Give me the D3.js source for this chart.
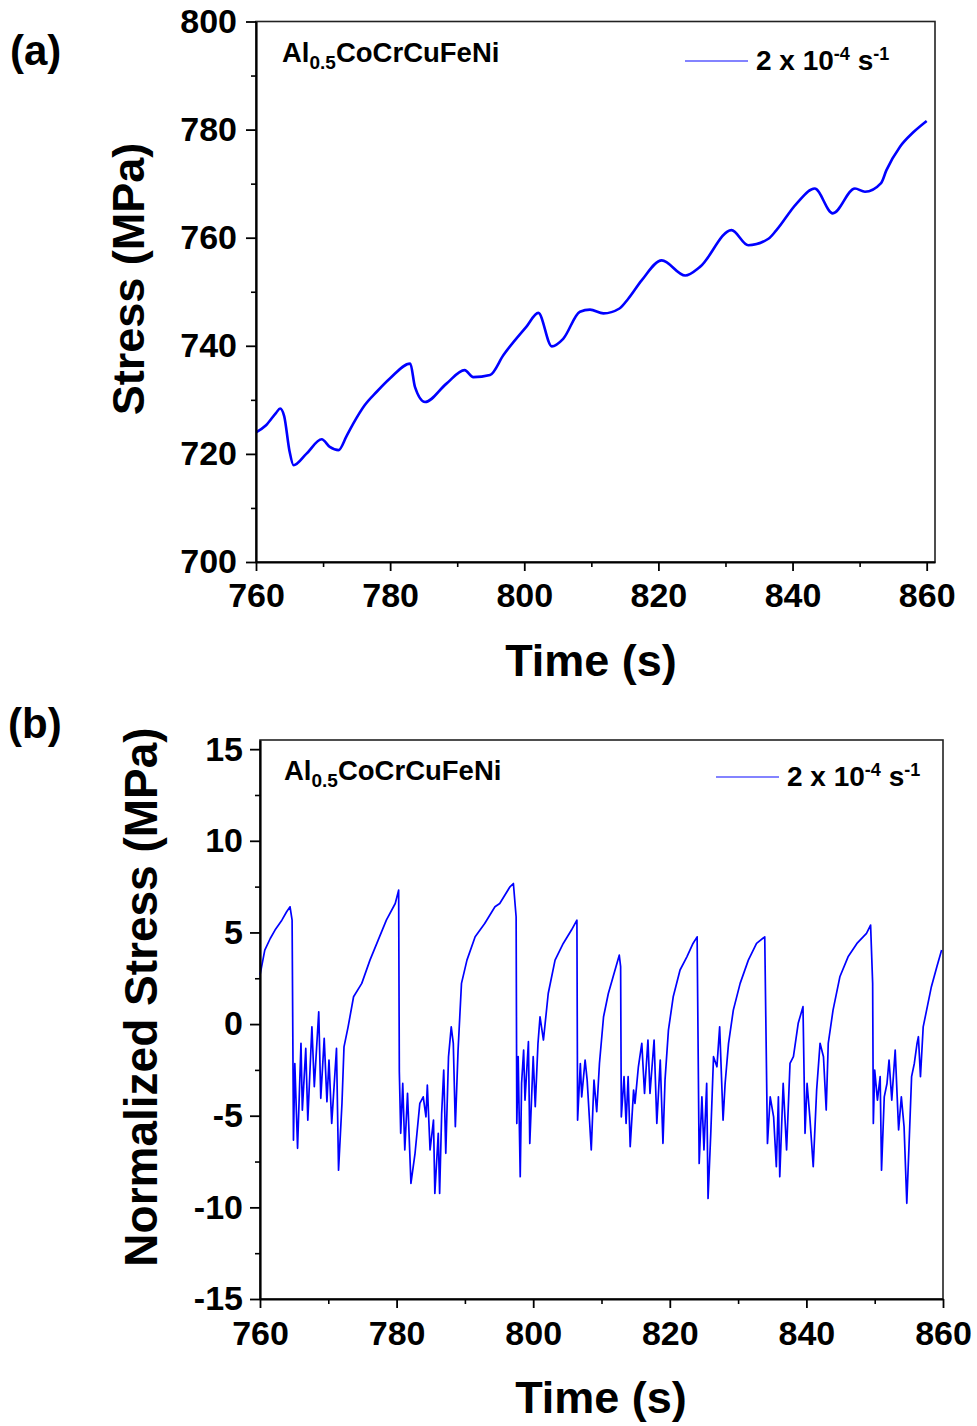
<!DOCTYPE html>
<html>
<head>
<meta charset="utf-8">
<script src="https://cdn.jsdelivr.net/npm/d3@7"></script>
<style>
  body { margin: 0; background: #fff; }
  text { font-family: "Liberation Sans", Arial, sans-serif; font-weight: bold; fill: #000; }
</style>
</head>
<body>
<script>
// panel (a): stress vs time
var timeA = [760, 761.5, 763, 763.6, 764.2, 765.0, 765.6, 767.5, 769.8, 771, 772.3, 773.5, 774.5, 776.2,
  778, 780, 783, 783.7, 785.2, 788.4, 791.1, 792.4, 794.9, 796.9, 800.3, 802.1, 804.1, 805.8,
  808.3, 809.8, 811.8, 814.2, 815.5, 817.5, 820.5, 824, 826.2, 830.9, 833.4, 836.4, 837.6,
  840.6, 843.3, 846.0, 849.3, 850.8, 853.2, 854.0, 856.0, 858.0, 860];
var stressA = [724.0, 725.3, 727.6, 728.4, 727.0, 720.5, 717.9, 720.0, 722.7, 721.3, 720.7, 723.3, 725.6, 729.0,
  731.5, 734.0, 736.7, 732.4, 729.6, 733.0, 735.5, 734.2, 734.6, 738.3, 743.5, 746.1, 739.9, 741.3,
  746.3, 746.7, 746.0, 746.9, 748.7, 752.1, 755.8, 753.0, 754.6, 761.4, 758.6, 759.8, 761.4,
  766.3, 769.1, 764.5, 769.1, 768.5, 770.1, 772.5, 776.8, 779.5, 781.6];

// panel (b): normalized stress vs time
var timeB = [760, 760.7, 761.5, 762.2, 763.2, 763.9, 764.4, 764.7, 764.9, 765.1, 765.5, 766.0, 766.2, 766.7,
  767.0, 767.6, 767.95, 768.6, 768.9, 769.4, 769.8, 770.1, 770.5, 771.2, 771.5, 772.0, 772.3, 772.9,
  773.7, 774.9, 776.1, 777.3, 778.5, 779.8, 780.3, 780.4, 780.6, 780.9, 781.2, 781.6, 782.1, 782.7,
  783.4, 783.9, 784.3, 784.5, 784.9, 785.4, 785.6, 786.1, 786.3, 786.6, 786.9, 787.2, 787.6, 788.0,
  788.3, 788.6, 789.0, 789.5, 790.3, 791.5, 792.9, 794.4, 795.1, 796.6, 797.1, 797.5, 797.6, 797.8,
  798.1, 798.3, 798.6, 798.8, 799.3, 799.5, 800.0, 800.3, 800.7, 801.0, 801.5, 802.2, 803.2, 804.4,
  805.6, 806.4, 806.5, 806.9, 807.1, 807.6, 807.9, 808.5, 808.9, 809.3, 809.7, 810.3, 811.0, 811.7,
  812.6, 812.8, 812.9, 813.3, 813.6, 813.9, 814.2, 814.7, 814.9, 815.4, 815.9, 816.3, 816.8, 817.1,
  817.7, 818.1, 818.6, 819.0, 819.3, 819.8, 820.5, 821.5, 822.5, 823.4, 824.0, 824.3, 824.7, 825.0,
  825.4, 825.6, 826.0, 826.4, 826.9, 827.3, 827.8, 828.1, 828.6, 829.3, 830.3, 831.5, 832.7, 833.9,
  834.3, 834.7, 835.2, 835.6, 835.9, 836.1, 836.6, 837.1, 837.6, 838.1, 838.8, 839.5, 839.8, 840.1,
  840.5, 841.0, 841.5, 842.0, 842.5, 842.9, 843.2, 843.9, 844.9, 846.1, 847.4, 848.8, 849.4, 849.7,
  849.8, 850.0, 850.4, 850.8, 851.0, 851.4, 851.8, 852.1, 852.5, 853.0, 853.5, 853.9, 854.3, 854.7,
  855.0, 855.4, 855.8, 856.2, 856.4, 856.7, 857.1, 857.6, 858.3, 859.1, 859.8];
var normB = [2.67, 4.04, 4.67, 5.13, 5.67, 6.13, 6.4, 5.67, -6.33, -2.15, -6.78, -1.05, -4.7, -1.33,
  -5.24, -0.15, -3.42, 0.67, -4.05, -0.78, -4.24, -1.96, -5.42, -1.33, -7.97, -4.33, -1.24, -0.15,
  1.49, 2.22, 3.49, 4.58, 5.67, 6.58, 7.31, -2.6, -5.96, -3.24, -6.87, -3.78, -8.69, -7.05,
  -4.33, -3.97, -5.06, -3.33, -6.87, -5.24, -9.24, -5.96, -9.24, -4.87, -2.51, -7.05, -1.78, -0.15,
  -1.05, -5.6, -1.42, 2.22, 3.49, 4.76, 5.49, 6.4, 6.58, 7.49, 7.67, 5.85, -5.42, -1.78,
  -8.33, -3.24, -1.42, -4.15, -0.96, -6.51, -1.78, -4.51, -1.05, 0.4, -0.87, 1.67, 3.49, 4.4,
  5.13, 5.67, -5.24, -2.15, -3.97, -1.96, -3.06, -6.87, -3.06, -4.78, -2.15, 0.4, 1.67, 2.58,
  3.76, 3.13, -5.06, -2.87, -5.42, -2.87, -6.69, -3.6, -4.33, -2.33, -1.05, -3.78, -0.87, -3.78,
  -0.87, -5.42, -1.96, -6.51, -3.06, -0.33, 1.49, 2.95, 3.67, 4.4, 4.76, -7.6, -3.97, -6.87,
  -3.24, -9.51, -5.96, -1.78, -2.33, -0.15, -5.24, -3.24, -1.05, 0.76, 2.22, 3.49, 4.4, 4.76,
  -6.51, -3.97, -5.06, -7.78, -3.97, -8.33, -3.24, -6.87, -2.15, -1.78, 0.04, 0.95, -5.96, -3.24,
  -5.06, -7.78, -3.6, -1.05, -1.78, -4.69, -1.05, 0.76, 2.58, 3.67, 4.4, 4.95, 5.4, 2.22,
  -5.42, -2.51, -4.15, -2.87, -7.97, -3.97, -3.24, -1.96, -4.15, -1.42, -5.78, -3.97, -5.6, -9.78,
  -6.87, -2.87, -2.15, -1.05, -0.69, -2.87, -0.15, 0.76, 2.04, 3.13, 4.04];

// tick labels
var xTicks = [760, 780, 800, 820, 840, 860];
var xMinor = [770, 790, 810, 830, 850];
var yTicksA = [700, 720, 740, 760, 780, 800];
var yMinorA = [710, 730, 750, 770, 790];
var yTicksB = [-15, -10, -5, 0, 5, 10, 15];
var yMinorB = [-12.5, -7.5, -2.5, 2.5, 7.5, 12.5];

var svg = d3.select("body").append("svg")
  .attr("width", 977)
  .attr("height", 1426);

// draws one panel
function makePanel(p) {
  var x = d3.scaleLinear().domain(p.xDomain).range([p.left, p.right]);
  var y = d3.scaleLinear().domain(p.yDomain).range([p.bottom, p.top]);
  var g = svg.append("g");

  // frame
  g.append("rect")
    .attr("x", p.left).attr("y", p.top)
    .attr("width", p.right - p.left).attr("height", p.bottom - p.top)
    .attr("fill", "none").attr("stroke", "#222").attr("stroke-width", 1.6);

  // line
  var line = d3.line()
    .curve(p.curve)
    .x(function(d) { return x(d[0]); })
    .y(function(d) { return y(d[1]); });
  g.append("path")
    .datum(d3.zip(p.xs, p.ys))
    .attr("d", line)
    .attr("fill", "none")
    .attr("stroke", "#0000ff")
    .attr("stroke-width", p.lineWidth)
    .attr("stroke-linejoin", "round");

  // minor ticks
  g.append("g")
    .attr("transform", "translate(0," + p.bottom + ")")
    .call(d3.axisBottom(x).tickValues(xMinor).tickSize(5).tickSizeOuter(0).tickFormat(""))
    .call(function(a) { a.select(".domain").remove(); a.selectAll("line").attr("stroke-width", 1.6); });
  g.append("g")
    .attr("transform", "translate(" + p.left + ",0)")
    .call(d3.axisLeft(y).tickValues(p.yMinor).tickSize(5).tickSizeOuter(0).tickFormat(""))
    .call(function(a) { a.select(".domain").remove(); a.selectAll("line").attr("stroke-width", 1.6); });

  // major axes
  var xa = g.append("g")
    .attr("transform", "translate(0," + p.bottom + ")")
    .call(d3.axisBottom(x).tickValues(xTicks).tickSize(9).tickSizeOuter(0)
      .tickPadding(p.xPad).tickFormat(function(d) { return String(d); }));
  var ya = g.append("g")
    .attr("transform", "translate(" + p.left + ",0)")
    .call(d3.axisLeft(y).tickValues(p.yTicks).tickSize(10).tickSizeOuter(0)
      .tickPadding(p.yPad).tickFormat(function(d) { return String(d); }));
  [xa, ya].forEach(function(a) {
    a.select(".domain").attr("stroke", "#000").attr("stroke-width", 2.2);
    a.selectAll("line").attr("stroke", "#000").attr("stroke-width", 1.8);
    a.selectAll("text")
      .style("font-family", "'Liberation Sans', Arial, sans-serif")
      .style("font-weight", "bold")
      .style("font-size", "34px")
      .attr("fill", "#000");
  });

  // axis titles
  g.append("text")
    .attr("x", p.xTitle[0]).attr("y", p.xTitle[1])
    .attr("text-anchor", "middle")
    .style("font-size", "45px")
    .text("Time (s)");
  g.append("text")
    .attr("transform", "translate(" + p.yTitle[0] + "," + p.yTitle[1] + ") rotate(-90)")
    .attr("text-anchor", "middle")
    .style("font-size", p.yTitleSize)
    .text(p.yLabel);

  // panel letter
  g.append("text")
    .attr("x", p.letter[0]).attr("y", p.letter[1])
    .style("font-size", "42px")
    .text(p.letterText);

  // composition label
  var comp = g.append("text")
    .attr("x", p.comp[0]).attr("y", p.comp[1])
    .style("font-size", "27.5px");
  comp.append("tspan").text("Al");
  comp.append("tspan").attr("dy", 7).style("font-size", "19px").text("0.5");
  comp.append("tspan").attr("dy", -7).text("CoCrCuFeNi");

  // legend
  g.append("line")
    .attr("x1", p.legend[0]).attr("x2", p.legend[0] + 63)
    .attr("y1", p.legend[1]).attr("y2", p.legend[1])
    .attr("stroke", "#0000ff").attr("stroke-opacity", 0.65).attr("stroke-width", 1.4);
  var leg = g.append("text")
    .attr("x", p.legend[0] + 71).attr("y", p.legend[1] + 9)
    .style("font-size", "28px");
  leg.append("tspan").text("2 x 10");
  leg.append("tspan").attr("dy", -10).style("font-size", "18px").text("-4");
  leg.append("tspan").attr("dy", 10).text(" s");
  leg.append("tspan").attr("dy", -10).style("font-size", "18px").text("-1");
}

makePanel({
  xDomain: [760, 861.24], yDomain: [700, 800],
  left: 256, right: 935, top: 21.5, bottom: 562,
  xs: timeA, ys: stressA, lineWidth: 2.6, curve: d3.curveMonotoneX,
  yTicks: yTicksA, yMinor: yMinorA, xPad: 12, yPad: 9,
  xTitle: [591, 676], yTitle: [144, 279], yLabel: "Stress (MPa)", yTitleSize: "45px",
  letter: [10, 65], letterText: "(a)",
  comp: [282, 62], legend: [685, 61]
});

makePanel({
  xDomain: [760, 860], yDomain: [-15, 15.5],
  left: 260, right: 943, top: 740, bottom: 1299,
  xs: timeB, ys: normB, lineWidth: 1.7, curve: d3.curveLinear,
  yTicks: yTicksB, yMinor: yMinorB, xPad: 13, yPad: 7,
  xTitle: [601, 1413], yTitle: [157, 997], yLabel: "Normalized Stress (MPa)", yTitleSize: "46px",
  letter: [8, 738], letterText: "(b)",
  comp: [284, 780], legend: [716, 777]
});
</script>
</body>
</html>
